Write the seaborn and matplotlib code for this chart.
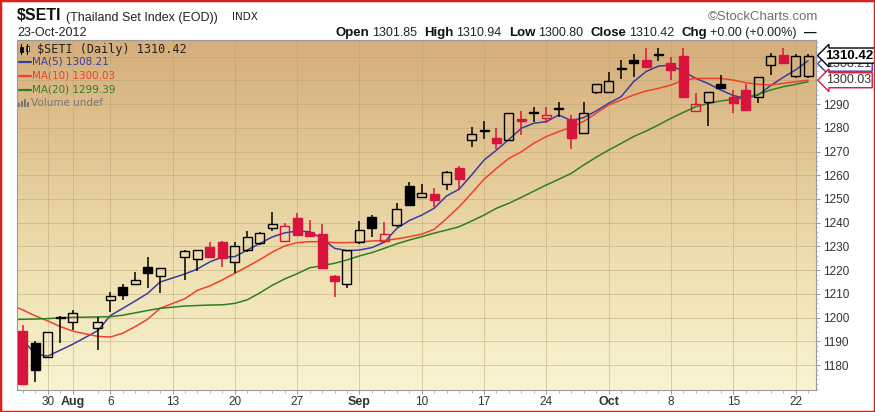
import matplotlib
matplotlib.use("Agg")
import matplotlib.pyplot as plt
from matplotlib.colors import LinearSegmentedColormap
from matplotlib.lines import Line2D
from matplotlib.patches import Rectangle
from matplotlib.ticker import FixedLocator, MultipleLocator
from matplotlib.transforms import blended_transform_factory
import numpy as np
import pandas as pd
import seaborn as sns

# calendar shown on the chart; the two Thai market holidays stay as gaps
first_day = "2012-07-26"
last_day = "2012-10-23"
market_holidays = ["2012-08-02", "2012-08-13"]
# the session before the first candle; only the averages reach into it (clipped)
lead_day = "2012-07-25"

opens = [1194.3, 1189.2, 1183.3, 1200.0, 1198.0, 1195.5, 1207.4, 1212.8, 1214.1, 1221.3,
         1217.5, 1225.4, 1224.6, 1229.9, 1232.0, 1223.3, 1228.5, 1231.6, 1237.7, 1232.4,
         1241.8, 1236.2, 1235.1, 1217.5, 1214.0, 1232.0, 1242.3, 1232.4, 1239.0, 1255.6,
         1251.0, 1252.0, 1256.3, 1262.9, 1274.8, 1278.8, 1275.5, 1274.8, 1283.8, 1286.8,
         1284.0, 1288.4, 1283.6, 1277.9, 1295.2, 1295.2, 1305.4, 1308.5, 1308.5, 1310.9,
         1307.2, 1310.4, 1287.1, 1290.7, 1298.3, 1293.1, 1295.9, 1292.8, 1306.4, 1310.6,
         1301.85, 1301.85]
highs = [1196.9, 1190.3, 1194.0, 1200.8, 1203.2, 1200.1, 1210.9, 1214.1, 1219.2, 1225.7,
         1220.8, 1228.4, 1228.7, 1232.0, 1232.3, 1231.8, 1236.7, 1236.1, 1244.6, 1239.8,
         1244.0, 1241.1, 1239.4, 1218.0, 1228.6, 1240.9, 1243.2, 1240.2, 1248.2, 1257.3,
         1256.2, 1254.5, 1261.6, 1263.9, 1280.2, 1283.0, 1279.8, 1286.2, 1287.2, 1288.9,
         1288.9, 1290.7, 1285.4, 1291.0, 1298.5, 1303.7, 1308.5, 1311.1, 1313.5, 1313.5,
         1310.0, 1313.5, 1294.5, 1295.0, 1302.2, 1295.9, 1298.3, 1301.4, 1311.7, 1313.5,
         1310.94, 1310.94]
lows = [1172.0, 1173.0, 1183.0, 1189.5, 1194.8, 1186.3, 1202.5, 1207.4, 1213.9, 1212.6,
        1210.5, 1215.8, 1219.6, 1225.0, 1221.2, 1218.9, 1227.8, 1230.6, 1236.6, 1232.0,
        1234.5, 1234.0, 1220.9, 1208.6, 1212.4, 1230.9, 1233.9, 1231.3, 1238.3, 1247.0,
        1250.7, 1246.5, 1253.8, 1253.8, 1271.8, 1275.2, 1270.9, 1274.7, 1276.9, 1282.5,
        1281.9, 1284.7, 1271.0, 1277.5, 1294.1, 1295.0, 1300.5, 1301.5, 1305.5, 1308.2,
        1300.1, 1292.4, 1287.0, 1280.7, 1296.6, 1286.4, 1287.3, 1290.6, 1302.2, 1307.0,
        1300.80, 1300.80]
closes = [1172.2, 1178.0, 1193.8, 1200.2, 1201.8, 1198.0, 1209.2, 1209.6, 1215.8, 1218.9,
          1220.8, 1228.2, 1228.5, 1225.4, 1225.0, 1230.2, 1233.9, 1235.8, 1239.3, 1238.8,
          1234.8, 1234.4, 1221.1, 1215.4, 1228.5, 1236.9, 1237.7, 1235.1, 1245.7, 1247.4,
          1252.4, 1249.5, 1261.5, 1258.4, 1277.3, 1279.2, 1273.7, 1286.1, 1283.0, 1286.3,
          1285.4, 1288.0, 1275.6, 1286.4, 1298.4, 1299.9, 1304.9, 1307.2, 1305.8, 1310.5,
          1304.3, 1292.8, 1289.9, 1294.9, 1296.9, 1290.6, 1287.5, 1301.3, 1310.4, 1307.2,
          1310.42, 1310.42]

# moving averages: lead session first, then one value per candle
ma5 = [1197.0, 1190.5, 1184.6, 1183.8, 1186.3, 1188.8, 1194.5, 1200.8, 1203.9, 1207.0,
       1210.2, 1215.0, 1218.4, 1220.5, 1223.5, 1225.5, 1225.7, 1228.5, 1231.2, 1234.0,
       1235.7, 1236.5, 1236.2, 1233.4, 1229.2, 1228.2, 1228.5, 1229.5, 1231.8, 1237.6,
       1240.9, 1243.2, 1246.1, 1251.3, 1254.1, 1260.1, 1266.4, 1270.6, 1275.1, 1279.8,
       1281.9, 1282.6, 1285.4, 1283.0, 1284.3, 1287.1, 1290.3, 1293.1, 1299.4, 1303.7,
       1306.0, 1306.4, 1303.6, 1300.8, 1298.6, 1295.9, 1293.6, 1292.4, 1293.8, 1297.8,
       1301.2, 1304.4, 1308.21]
ma10 = [1205.4, 1203.2, 1200.7, 1198.6, 1196.2, 1194.3, 1192.1, 1191.8, 1193.4, 1196.2,
        1199.3, 1203.9, 1208.0, 1211.5, 1213.4, 1215.9, 1218.7, 1221.5, 1224.4, 1227.6,
        1230.2, 1231.6, 1232.0, 1232.0, 1231.6, 1231.6, 1231.8, 1232.3, 1232.5, 1233.2,
        1234.1, 1235.2, 1237.2, 1241.8, 1246.7, 1252.4, 1258.3, 1262.9, 1267.1, 1269.9,
        1273.5, 1276.3, 1278.4, 1280.2, 1282.7, 1286.1, 1289.6, 1291.7, 1293.8, 1295.5,
        1296.6, 1298.0, 1300.1, 1300.8, 1300.8, 1300.8, 1300.1, 1299.0, 1298.3, 1298.0,
        1298.7, 1299.4, 1300.03]
ma20 = [1199.2, 1199.3, 1199.4, 1199.6, 1199.9, 1200.1, 1200.3, 1200.4, 1201.0, 1202.0,
        1203.0, 1203.9, 1204.9, 1205.1, 1205.3, 1205.4, 1206.0, 1207.5, 1210.4, 1213.6,
        1216.3, 1218.5, 1221.0, 1221.9, 1222.9, 1224.3, 1226.0, 1227.4, 1229.2, 1231.1,
        1232.7, 1234.1, 1235.6, 1236.9, 1238.3, 1240.7, 1243.2, 1246.1, 1248.2, 1250.7,
        1253.3, 1255.9, 1258.3, 1260.8, 1264.3, 1267.6, 1270.6, 1273.4, 1276.3, 1278.6,
        1281.2, 1284.0, 1286.5, 1288.9, 1290.3, 1291.3, 1292.0, 1292.7, 1294.1, 1295.9,
        1297.3, 1298.3, 1299.39]

tick_dates = ["2012-07-30", "2012-08-01", "2012-08-06", "2012-08-13", "2012-08-20",
              "2012-08-27", "2012-09-03", "2012-09-10", "2012-09-17", "2012-09-24",
              "2012-10-01", "2012-10-08", "2012-10-15", "2012-10-22"]
tick_labels = ["30", "Aug", "6", "13", "20", "27", "Sep", "10", "17", "24",
               "Oct", "8", "15", "22"]
month_labels = {"Aug", "Sep", "Oct"}
price_ticks = list(range(1180, 1300, 10))

header_fields = [("Open", "1301.85"), ("High", "1310.94"), ("Low", "1300.80"),
                 ("Close", "1310.42"), ("Chg", "+0.00 (+0.00%)")]

RED = "#d8143c"
MA_COLOURS = {"MA(5)": "#3b3b9c", "MA(10)": "#f2402a", "MA(20)": "#2f7f22"}

W, H = 875, 412

sns.set_theme(style="white")
plt.rcParams["font.family"] = ["Liberation Sans", "DejaVu Sans"]

calendar = pd.bdate_range(first_day, last_day)
slot = {d: i for i, d in enumerate(calendar)}
sessions = calendar.drop(pd.to_datetime(market_holidays))
pos = np.array([slot[d] for d in sessions])
ma_pos = np.r_[-len(pd.bdate_range(lead_day, first_day)) + 1, pos]

o = np.array(opens)
h = np.array(highs)
l = np.array(lows)
c = np.array(closes)

# colour vs previous close (after a missing session compare against the open)
ref = np.where(np.r_[True, np.diff(pos) > 1], o, np.r_[o[0], c[:-1]])
edge = np.where(c < ref, RED, "black")
face = np.where(c >= o, "none", edge)

fig = plt.figure(figsize=(W / 100, H / 100), dpi=100, facecolor="white")
ax = fig.add_axes([17 / W, 1 - 390 / H, (816 - 17) / W, (390 - 39.5) / H])

x0, x1 = -0.48, 63.64
y0, y1 = 1169.5, 1317.2

# tan-to-cream background
bg = LinearSegmentedColormap.from_list("bg", ["#f8f4d2", "#efe1b2", "#e2c795", "#d5ae7b"])
ax.imshow(np.linspace(0, 1, 256).reshape(-1, 1), extent=[x0, x1, y0, y1], origin="lower",
          aspect="auto", cmap=bg, zorder=0)

# grid
for yv in range(1180, 1320, 10):
    ax.axhline(yv, color="#b89d72", lw=0.7, alpha=0.45, zorder=1)
tick_pos = [slot[pd.Timestamp(d)] for d in tick_dates]
for xv in tick_pos:
    ax.axvline(xv, color="#b89d72", lw=0.7, alpha=0.45, zorder=1)

# moving averages
ma_df = pd.DataFrame({
    "pos": np.tile(ma_pos, 3),
    "value": ma5 + ma10 + ma20,
    "line": ["MA(5)"] * len(ma_pos) + ["MA(10)"] * len(ma_pos) + ["MA(20)"] * len(ma_pos),
})
sns.lineplot(data=ma_df, x="pos", y="value", hue="line", palette=MA_COLOURS,
             estimator=None, linewidth=1.1, legend=False, ax=ax, zorder=2)

# candles
body_lo = np.minimum(o, c)
body_hi = np.maximum(o, c)
ax.vlines(pos, l, body_lo, colors=edge, lw=1.1, zorder=3)
ax.vlines(pos, body_hi, h, colors=edge, lw=1.1, zorder=3)
ax.bar(pos, np.maximum(body_hi - body_lo, 0.3), bottom=body_lo, width=0.72,
       color=list(face), edgecolor=list(edge), linewidth=1.0, zorder=4)

ax.set_xlim(x0, x1)
ax.set_ylim(y0, y1)
ax.set_xlabel("")
ax.set_ylabel("")

for sp in ax.spines.values():
    sp.set_color("#9a9a9a")
    sp.set_linewidth(0.8)

ax.xaxis.set_major_locator(FixedLocator(tick_pos))
ax.set_xticklabels(tick_labels)
ax.xaxis.set_minor_locator(FixedLocator(pos))
ax.tick_params(axis="x", which="major", length=3, width=0.6, color="#888",
               labelsize=8.5, labelcolor="#333", pad=1.5, bottom=True)
ax.tick_params(axis="x", which="minor", length=2, width=0.5, color="#999", bottom=True)
for t in ax.get_xticklabels():
    if t.get_text() in month_labels:
        t.set_fontweight("bold")
        t.set_fontsize(9)

ax.yaxis.tick_right()
ax.yaxis.set_major_locator(FixedLocator(price_ticks))
ax.set_yticklabels([str(v) for v in price_ticks])
ax.yaxis.set_minor_locator(MultipleLocator(2))
ax.tick_params(axis="y", which="major", right=True, left=False, length=3, width=0.6,
               color="#888", labelsize=8.5, labelcolor="#333", pad=2)
ax.tick_params(axis="y", which="minor", right=True, left=False, length=1.5, width=0.5,
               color="#aaa")

# last-value tags on the price axis
tag = blended_transform_factory(ax.transAxes, ax.transData)
ax.text(1.012, ma5[-1] - 1.2, f"{ma5[-1]:.2f}", transform=tag, va="center", ha="left",
        fontsize=9, color="#333", clip_on=False, zorder=6,
        bbox=dict(boxstyle="larrow,pad=0.12", fc="white", ec="#3b3b9c", lw=1))
ax.text(1.012, closes[-1], f"{closes[-1]:.2f}", transform=tag, va="center", ha="left",
        fontsize=9.5, fontweight="bold", color="black", clip_on=False, zorder=7,
        bbox=dict(boxstyle="larrow,pad=0.12", fc="white", ec="black", lw=1))
ax.text(1.012, ma10[-1], f"{ma10[-1]:.2f}", transform=tag, va="center", ha="left",
        fontsize=9, color="#333", clip_on=False, zorder=6,
        bbox=dict(boxstyle="larrow,pad=0.12", fc="white", ec=RED, lw=1))


def fx(px):
    return px / W


def fy(py):
    return 1 - py / H


# in-chart legend
ax.text(fx(37), fy(49), f"$SETI (Daily) {closes[-1]:.2f}", transform=fig.transFigure,
        family="DejaVu Sans Mono", fontsize=8.5, color="#222", va="center", zorder=8)
fig.add_artist(Line2D([fx(21), fx(21)], [fy(44), fy(54)], color="black", lw=0.8))
fig.add_artist(Rectangle((fx(19.5), fy(52)), 3 / W, 5 / H, fc="black", ec="black", lw=0.5))
fig.add_artist(Line2D([fx(27), fx(27)], [fy(44), fy(54)], color="black", lw=0.8))
fig.add_artist(Rectangle((fx(25.5), fy(51)), 3 / W, 5 / H, fc="white", ec="black", lw=0.5))
legend_rows = [("MA(5)", ma5[-1], 62), ("MA(10)", ma10[-1], 76), ("MA(20)", ma20[-1], 90)]
for name, val, py in legend_rows:
    col = MA_COLOURS[name]
    fig.add_artist(Line2D([fx(19), fx(31)], [fy(py), fy(py)], color=col, lw=1.6))
    fig.text(fx(32), fy(py), f"{name} {val:.2f}", family="DejaVu Sans", fontsize=7.5,
             color=col, va="center")
for k, bh in enumerate([4, 6, 8, 5]):
    fig.add_artist(Rectangle((fx(18 + k * 3), fy(107)), 2 / W, bh / H, fc="#777", ec="none"))
fig.text(fx(31), fy(103), "Volume undef", family="DejaVu Sans", fontsize=7.5,
         color="#777", va="center")

# header
fig.text(fx(17), fy(20.5), "$SETI", fontsize=11.5, fontweight="bold", color="#111",
         va="baseline")
fig.text(fx(66), fy(20.5), "(Thailand Set Index (EOD))", fontsize=9, color="#222",
         va="baseline")
fig.text(fx(232), fy(20.5), "INDX", family="DejaVu Sans", fontsize=7.5, color="#222",
         va="baseline")
fig.text(fx(17), fy(36), "23-Oct-2012", fontsize=9, color="#222", va="baseline")
fig.text(fx(818), fy(20), "\u00a9StockCharts.com", fontsize=9.5, color="#6e6e6e",
         ha="right", va="baseline")

fig.canvas.draw()
renderer = fig.canvas.get_renderer()
pieces = []
for label, value in header_fields:
    pieces.append((fig.text(0, fy(36), label, fontsize=9.5, fontweight="bold",
                            color="#111", va="baseline"), 3))
    pieces.append((fig.text(0, fy(36), value, fontsize=9, color="#222",
                            va="baseline"), 7))
pieces.append((fig.text(0, fy(36), "\u2014", fontsize=9, fontweight="bold",
                        color="#111", va="baseline"), 0))
widths = [t.get_window_extent(renderer).width for t, _ in pieces]
total = sum(widths) + sum(g for _, g in pieces[:-1])
cursor = 816 - total
for (t, gap), w in zip(pieces, widths):
    t.set_x(fx(cursor))
    cursor += w + gap

# red frame round the picture
fig.add_artist(Rectangle((0, 0), 1, 1, transform=fig.transFigure, fill=False,
                         ec="#e0201c", lw=2.5))

fig.savefig("out.png", dpi=100, facecolor="white")
